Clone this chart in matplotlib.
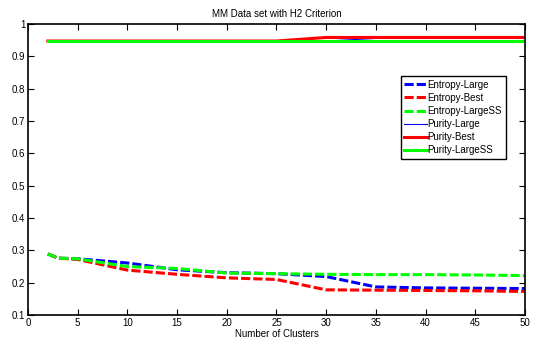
import matplotlib
matplotlib.use("Agg")
import matplotlib.pyplot as plt

plt.rcParams['font.family'] = ['Liberation Sans', 'DejaVu Sans']

clusters = [2, 3, 5, 10, 15, 20, 25, 30, 35, 40, 45, 50]

entropy_large = [0.289, 0.276, 0.274, 0.261, 0.240, 0.231, 0.228, 0.219, 0.187, 0.184, 0.183, 0.182]
entropy_best = [0.289, 0.276, 0.272, 0.239, 0.226, 0.215, 0.210, 0.178, 0.177, 0.176, 0.175, 0.173]
entropy_largess = [0.289, 0.276, 0.274, 0.250, 0.244, 0.230, 0.228, 0.226, 0.225, 0.225, 0.224, 0.222]

purity_large = [0.947, 0.947, 0.947, 0.947, 0.947, 0.947, 0.947, 0.947, 0.955, 0.956, 0.956, 0.956]
purity_best = [0.947, 0.947, 0.947, 0.947, 0.947, 0.947, 0.947, 0.958, 0.958, 0.958, 0.958, 0.958]
purity_largess = [0.946, 0.946, 0.946, 0.946, 0.946, 0.946, 0.946, 0.946, 0.946, 0.946, 0.946, 0.946]

x_ticks = [0, 5, 10, 15, 20, 25, 30, 35, 40, 45, 50]
y_ticks = [0.1, 0.2, 0.3, 0.4, 0.5, 0.6, 0.7, 0.8, 0.9, 1.0]
y_tick_labels = ['0.1', '0.2', '0.3', '0.4', '0.5', '0.6', '0.7', '0.8', '0.9', '1']

fig = plt.figure(figsize=(5.33, 3.41), dpi=100)
ax = fig.add_axes([0.0525, 0.076, 0.9325, 0.854])

blue, red, green = '#0000ff', '#ff0000', '#00ff00'
dash = (3, 1)
ax.plot(clusters, entropy_large, color=blue, lw=2.2, dashes=dash, label='Entropy-Large')
ax.plot(clusters, entropy_best, color=red, lw=2.2, dashes=dash, label='Entropy-Best')
ax.plot(clusters, entropy_largess, color=green, lw=2.2, dashes=dash, label='Entropy-LargeSS')
ax.plot(clusters, purity_large, color=blue, lw=0.8, label='Purity-Large')
ax.plot(clusters, purity_best, color=red, lw=2.2, label='Purity-Best')
ax.plot(clusters, purity_largess, color=green, lw=2.2, label='Purity-LargeSS')

ax.set_xlim(0, 50)
ax.set_ylim(0.1, 1.0)
ax.set_xticks(x_ticks)
ax.set_yticks(y_ticks)
ax.set_yticklabels(y_tick_labels)
ax.tick_params(direction='in', top=True, right=True, labelsize=7, length=4, width=0.8, pad=2)
for s in ax.spines.values():
    s.set_linewidth(1.2)

ax.set_title('MM Data set with H2 Criterion', fontsize=7, pad=5)
ax.set_xlabel('Number of Clusters', fontsize=7, labelpad=1)

leg = ax.legend(loc='upper right', bbox_to_anchor=(0.961, 0.82), fontsize=7,
                frameon=True, fancybox=False, framealpha=1, edgecolor='black',
                handlelength=2.3, handletextpad=0.1, labelspacing=0.32,
                borderpad=0.35, borderaxespad=0)
leg.get_frame().set_linewidth(1.0)

fig.savefig('out.png', dpi=100)
